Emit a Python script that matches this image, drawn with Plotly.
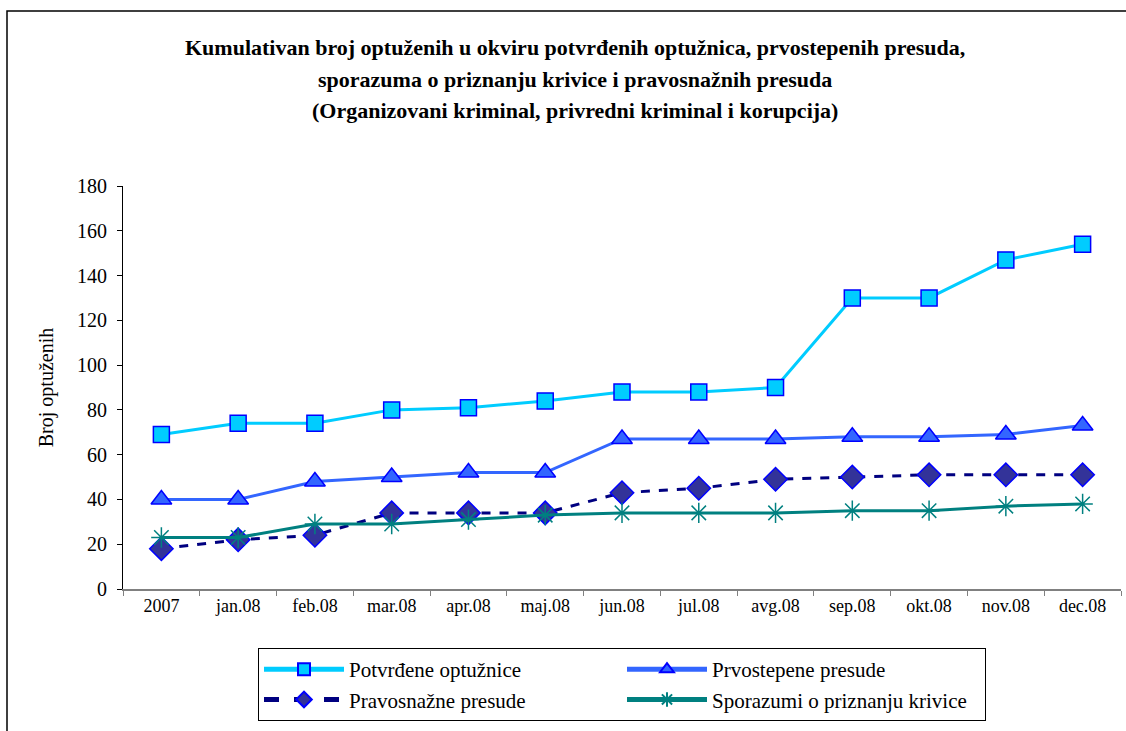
"""
Kumulativan broj optuženih - line chart (organizovani kriminal, privredni kriminal i korupcija).
"""
import plotly.graph_objects as go

# Data
months = ["2007", "jan.08", "feb.08", "mar.08", "apr.08", "maj.08", "jun.08",
          "jul.08", "avg.08", "sep.08", "okt.08", "nov.08", "dec.08"]
potvrdjene = [69, 74, 74, 80, 81, 84, 88, 88, 90, 130, 130, 147, 154]
prvostepene = [40, 40, 48, 50, 52, 52, 67, 67, 67, 68, 68, 69, 73]
pravosnazne = [18, 22, 24, 34, 34, 34, 43, 45, 49, 50, 51, 51, 51]
sporazumi = [23, 23, 29, 29, 31, 33, 34, 34, 34, 35, 35, 37, 38]

title_lines = [
    "Kumulativan broj optuženih u okviru potvrđenih optužnica, prvostepenih presuda,",
    "sporazuma o priznanju krivice i pravosnažnih presuda",
    "(Organizovani kriminal, privredni kriminal i korupcija)",
]

FONT = "Liberation Serif"

fig = go.Figure()

fig.add_trace(go.Scatter(
    x=months, y=potvrdjene, name="Potvrđene optužnice", mode="lines+markers",
    line=dict(color="#00CCFF", width=3),
    marker=dict(symbol="square", size=16, color="#00CCFF",
                line=dict(color="#0000FF", width=1.5)),
))
fig.add_trace(go.Scatter(
    x=months, y=prvostepene, name="Prvostepene presude", mode="lines+markers",
    line=dict(color="#3366FF", width=3),
    marker=dict(symbol="triangle-up", size=18, color="#3366FF",
                line=dict(color="#0000FF", width=1.5)),
))
fig.add_trace(go.Scatter(
    x=months, y=pravosnazne, name="Pravosnažne presude", mode="lines+markers",
    line=dict(color="#000080", width=3, dash="dash"),
    marker=dict(symbol="diamond", size=18, color="#333399",
                line=dict(color="#0000FF", width=1.5)),
))
fig.add_trace(go.Scatter(
    x=months, y=sporazumi, name="Sporazumi o priznanju krivice", mode="lines+markers",
    line=dict(color="#008080", width=3),
    marker=dict(symbol="asterisk-open", size=17, color="#008080",
                line=dict(color="#008080", width=1.5)),
))

# title as three separate lines to get the wide line spacing
for i, line in enumerate(title_lines):
    fig.add_annotation(
        text="<b>" + line + "</b>",
        xref="paper", yref="paper",
        x=(575 - 123) / 998, y=1 + (186 - 47 - 32 * i) / 403,
        showarrow=False, xanchor="center", yanchor="middle",
        font=dict(family=FONT, size=22, color="black"),
    )

# outer chart border (cropped at right and bottom)
fig.add_shape(
    type="rect", xref="paper", yref="paper",
    x0=(7 - 123) / 998, x1=(1140 - 123) / 998,
    y0=-(760 - 589) / 403, y1=1 + (186 - 11) / 403,
    line=dict(color="black", width=1.5), fillcolor="rgba(0,0,0,0)",
    layer="below",
)

fig.update_layout(
    width=1126,
    height=731,
    margin=dict(l=123, r=5, t=186, b=142),
    paper_bgcolor="white",
    plot_bgcolor="white",
    font=dict(family=FONT, color="black", size=15),
    showlegend=True,
    legend=dict(
        orientation="h",
        x=(258 - 123) / 998, xanchor="left",
        y=-(648 - 589) / 403, yanchor="top",
        bordercolor="black", borderwidth=1,
        bgcolor="white",
        font=dict(family=FONT, size=21, color="black"),
        itemwidth=80,
        itemsizing="constant",
        entrywidth=268, entrywidthmode="pixels",
        traceorder="normal",
    ),
    xaxis=dict(
        type="category",
        showline=True, linecolor="#808080", linewidth=1.5,
        ticks="outside", tickson="boundaries", ticklen=5, tickcolor="#808080",
        showgrid=False, zeroline=False,
        tickfont=dict(family=FONT, size=18),
        range=[-0.5, len(months) - 0.5],
    ),
    yaxis=dict(
        range=[0, 180], dtick=20,
        showline=True, linecolor="black", linewidth=1,
        ticks="outside", ticklen=5, tickcolor="black",
        ticklabelstandoff=6,
        showgrid=False, zeroline=False,
        tickfont=dict(family=FONT, size=20),
        title=dict(text="Broj optuženih", font=dict(family=FONT, size=20), standoff=18),
    ),
)

# page body has a default margin; drop it so the figure sits at the window origin
fig.write_html(
    "out.html",
    config={"displayModeBar": False},
    post_script="document.body.style.margin='0';document.body.style.overflow='hidden';",
)
